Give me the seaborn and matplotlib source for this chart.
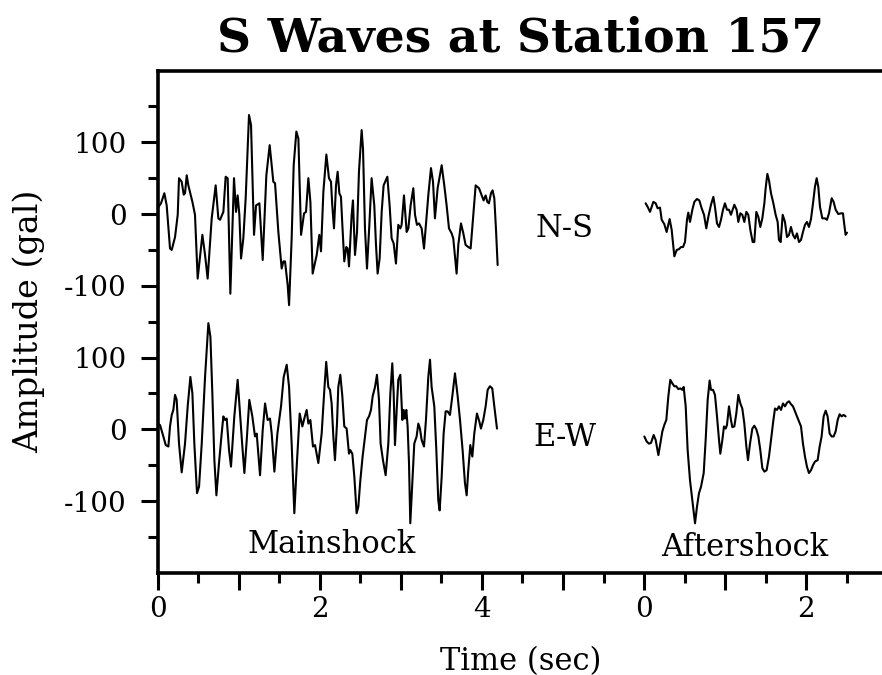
import numpy as np
import pandas as pd
import matplotlib
matplotlib.use("Agg")
import matplotlib.pyplot as plt
import seaborn as sns
from matplotlib.ticker import FixedLocator, FixedFormatter

# ---------------- data (time in s, amplitude in gal) ----------------
ns_main_t = [0.000, 0.043, 0.084, 0.113, 0.154, 0.175, 0.216, 0.249, 0.265, 0.298, 0.323, 0.339,
             0.360, 0.380, 0.430, 0.462, 0.495, 0.553, 0.586, 0.618, 0.668, 0.717, 0.750, 0.771,
             0.812, 0.840, 0.865, 0.898, 0.943, 0.968, 0.988, 1.009, 1.030, 1.058, 1.087, 1.128,
             1.153, 1.190, 1.215, 1.256, 1.297, 1.342, 1.383, 1.428, 1.449, 1.490, 1.531, 1.552,
             1.572, 1.605, 1.622, 1.654, 1.679, 1.712, 1.737, 1.770, 1.807, 1.831, 1.860, 1.885,
             1.913, 1.963, 1.995, 2.016, 2.045, 2.082, 2.114, 2.139, 2.155, 2.176, 2.201, 2.221,
             2.242, 2.262, 2.279, 2.303, 2.328, 2.344, 2.361, 2.394, 2.410, 2.435, 2.460, 2.484,
             2.517, 2.534, 2.558, 2.583, 2.612, 2.640, 2.673, 2.694, 2.714, 2.739, 2.764, 2.788,
             2.834, 2.862, 2.887, 2.912, 2.940, 2.969, 2.994, 3.010, 3.039, 3.072, 3.093, 3.121,
             3.154, 3.175, 3.199, 3.224, 3.257, 3.286, 3.310, 3.339, 3.372, 3.397, 3.421, 3.454,
             3.504, 3.536, 3.565, 3.594, 3.627, 3.647, 3.688, 3.709, 3.742, 3.771, 3.799, 3.832,
             3.861, 3.894, 3.923, 3.964, 3.997, 4.021, 4.046, 4.067, 4.087, 4.112, 4.132, 4.153,
             4.173, 4.194]
ns_main_v = [8, 15, 29, 12, -48, -50, -32, -1, 50, 45, 27, 29,
             54, 40, 17, -1, -90, -29, -57, -90, -6, 40, -6, -8,
             3, 52, 50, -111, 50, 3, 26, -1, -62, -34, 22, 138,
             124, -29, 12, 15, -64, 54, 96, 45, 43, -25, -76, -66,
             -66, -99, -127, -34, 68, 115, 105, -29, 1, 3, 50, 17,
             -83, -57, -29, -52, 31, 83, 50, 45, 12, -20, 40, 59,
             29, 24, -15, -66, -46, -48, -73, -1, 19, -57, -25, 59,
             117, 91, -20, -76, -15, 50, 12, -43, -83, -62, 3, 40,
             52, 12, -34, -41, -69, -15, -20, -15, 26, -25, -20, 12,
             36, -1, -15, -13, -20, -48, -15, 26, 64, 45, -6, 36,
             68, 40, 12, -20, -27, -34, -83, -43, -13, -27, -43, -46,
             -48, -1, 40, 36, 26, 19, 26, 17, 15, 29, 33, 22,
             -20, -71]

ew_main_t = [0.000, 0.031, 0.072, 0.101, 0.134, 0.154, 0.175, 0.195, 0.216, 0.236, 0.265, 0.298,
             0.339, 0.372, 0.405, 0.430, 0.454, 0.487, 0.512, 0.545, 0.586, 0.627, 0.652, 0.676,
             0.701, 0.726, 0.758, 0.791, 0.812, 0.832, 0.853, 0.882, 0.906, 0.947, 0.988, 1.017,
             1.046, 1.071, 1.100, 1.132, 1.169, 1.202, 1.223, 1.264, 1.297, 1.326, 1.358, 1.387,
             1.408, 1.441, 1.478, 1.523, 1.556, 1.593, 1.622, 1.654, 1.687, 1.716, 1.753, 1.786,
             1.810, 1.839, 1.860, 1.885, 1.917, 1.942, 1.983, 2.024, 2.057, 2.080, 2.106, 2.127,
             2.147, 2.168, 2.188, 2.213, 2.229, 2.254, 2.279, 2.303, 2.332, 2.361, 2.377, 2.402,
             2.427, 2.455, 2.476, 2.501, 2.529, 2.558, 2.583, 2.608, 2.632, 2.653, 2.682, 2.706,
             2.731, 2.751, 2.780, 2.813, 2.846, 2.871, 2.895, 2.912, 2.928, 2.949, 2.969, 2.994,
             3.019, 3.035, 3.051, 3.068, 3.084, 3.101, 3.117, 3.142, 3.166, 3.195, 3.216, 3.236,
             3.257, 3.286, 3.310, 3.339, 3.360, 3.380, 3.413, 3.438, 3.462, 3.479, 3.504, 3.528,
             3.553, 3.577, 3.606, 3.635, 3.668, 3.701, 3.730, 3.762, 3.791, 3.812, 3.832, 3.857,
             3.882, 3.906, 3.939, 3.968, 3.988, 4.017, 4.046, 4.071, 4.099, 4.128, 4.153, 4.186]
ew_main_v = [8, 6, -10, -22, -24, 4, 20, 27, 48, 41, -20, -60,
             -20, 32, 73, 50, -20, -89, -80, -20, 73, 148, 129, 50,
             -43, -92, -47, -6, 18, 13, 15, -29, -52, 18, 69, 22,
             -24, -61, -15, 41, 18, -10, -6, -64, -1, 36, 13, 15,
             -6, -59, -6, 32, 73, 90, 59, -20, -117, -52, 22, 4,
             15, 27, 8, 13, -24, -22, -47, -6, 55, 94, 59, 55,
             36, -10, -43, 8, 59, 76, 46, 4, 1, -34, -29, -34,
             -66, -117, -108, -71, -38, -10, 13, 18, 27, 46, 59, 76,
             41, -20, -43, -64, -20, 50, 92, 50, -22, 27, 69, 76,
             13, 27, 15, 27, 4, -47, -131, -75, -20, -10, 8, 1,
             -15, -24, 13, 73, 97, 59, 32, -29, -99, -113, -66, -6,
             25, 25, 20, 46, 78, 46, 13, -29, -75, -92, -57, -22,
             -38, -6, 22, 11, 1, 13, 32, 55, 60, 57, 32, 1]

ns_after_t = [0.019, 0.044, 0.073, 0.114, 0.143, 0.167, 0.196, 0.217, 0.249, 0.278, 0.315, 0.340,
              0.373, 0.402, 0.430, 0.455, 0.480, 0.504, 0.529, 0.545, 0.566, 0.595, 0.620, 0.652,
              0.681, 0.710, 0.739, 0.767, 0.792, 0.825, 0.854, 0.874, 0.899, 0.924, 0.948, 0.973,
              0.997, 1.022, 1.047, 1.071, 1.092, 1.113, 1.141, 1.162, 1.187, 1.211, 1.236, 1.261,
              1.285, 1.310, 1.339, 1.359, 1.384, 1.409, 1.433, 1.458, 1.483, 1.499, 1.520, 1.540,
              1.565, 1.594, 1.622, 1.647, 1.663, 1.684, 1.709, 1.737, 1.762, 1.787, 1.811, 1.836,
              1.861, 1.885, 1.910, 1.935, 1.959, 1.984, 2.008, 2.033, 2.058, 2.083, 2.107, 2.128,
              2.148, 2.169, 2.198, 2.231, 2.255, 2.280, 2.313, 2.337, 2.362, 2.395, 2.428, 2.452,
              2.469, 2.485, 2.502]
ns_after_v = [15, 10, 3, 17, 15, 8, 9, -8, -14, -25, -7, -22,
              -59, -50, -49, -46, -46, -39, -8, 2, -11, 6, 17, 21,
              19, 8, -1, -20, -4, 13, 24, 10, -13, -18, -8, 6,
              15, 6, 6, -1, 6, 13, 6, -11, 1, -1, -11, 3,
              -1, -22, -39, -39, 3, -4, -18, -6, 15, 36, 56, 47,
              29, 15, -1, -11, -36, -39, -1, -11, -32, -29, -18, -29,
              -34, -27, -39, -36, -25, -15, -11, -18, -7, 15, 38, 50,
              38, 10, -6, -6, -8, 1, 22, 17, 6, 0, 1, 1,
              -15, -29, -26]

ew_after_t = [0.003, 0.032, 0.060, 0.085, 0.118, 0.143, 0.176, 0.200, 0.225, 0.249, 0.274, 0.299,
              0.323, 0.348, 0.373, 0.397, 0.422, 0.447, 0.471, 0.488, 0.513, 0.537, 0.566, 0.595,
              0.628, 0.652, 0.677, 0.702, 0.735, 0.759, 0.784, 0.808, 0.825, 0.850, 0.874, 0.899,
              0.924, 0.940, 0.965, 0.985, 1.006, 1.022, 1.047, 1.071, 1.088, 1.113, 1.137, 1.162,
              1.187, 1.211, 1.236, 1.261, 1.281, 1.306, 1.335, 1.359, 1.384, 1.409, 1.433, 1.458,
              1.483, 1.511, 1.540, 1.565, 1.589, 1.614, 1.639, 1.663, 1.688, 1.713, 1.737, 1.762,
              1.787, 1.811, 1.836, 1.861, 1.885, 1.910, 1.935, 1.959, 1.984, 2.008, 2.033, 2.058,
              2.083, 2.107, 2.140, 2.165, 2.189, 2.214, 2.239, 2.263, 2.288, 2.313, 2.337, 2.362,
              2.387, 2.411, 2.436, 2.461, 2.485]
ew_after_v = [-10, -17, -20, -19, -8, -15, -36, -20, -3, 6, 13, 46,
              69, 64, 60, 60, 56, 57, 55, 59, 32, -29, -71, -99,
              -131, -108, -89, -80, -61, -15, 41, 68, 55, 55, 48, 18,
              -15, -34, -15, 4, 1, 6, 32, 13, 3, 4, 22, 48,
              36, 29, 8, -24, -43, -20, 1, 5, 0, -10, -29, -54,
              -59, -57, -38, -15, 8, 29, 27, 32, 27, 36, 32, 37,
              39, 35, 32, 25, 18, 11, 4, -20, -38, -52, -61, -57,
              -50, -45, -43, -24, -10, 18, 26, 18, -6, -10, -10, -3,
              13, 21, 18, 20, 18]

# layout constants
NS_OFFSET = 300.0      # vertical offset of the N-S trace (gal)
AFTER_SHIFT = 6.0      # aftershock time axis starts at this position (s)

traces = [
    ("ns_main", np.array(ns_main_t), np.array(ns_main_v) + NS_OFFSET),
    ("ew_main", np.array(ew_main_t), np.array(ew_main_v)),
    ("ns_after", np.array(ns_after_t) + AFTER_SHIFT, np.array(ns_after_v) + NS_OFFSET),
    ("ew_after", np.array(ew_after_t) + AFTER_SHIFT, np.array(ew_after_v)),
]

sns.set_style("ticks")
plt.rcParams["font.family"] = ["DejaVu Serif"]
plt.rcParams["text.color"] = "black"
plt.rcParams["axes.labelcolor"] = "black"
plt.rcParams["xtick.color"] = "black"
plt.rcParams["ytick.color"] = "black"

fig = plt.figure(figsize=(8.82, 6.75), dpi=100)
ax = fig.add_axes([0.1786, 0.1514, 0.8229, 0.7441])

for name, t, v in traces:
    df = pd.DataFrame({"time": t, "amp": v})
    sns.lineplot(data=df, x="time", y="amp", sort=False, estimator=None,
                 color="black", linewidth=1.5, ax=ax)

ax.set_xlim(0, 8.95)
ax.set_ylim(-200, 500)

# x ticks
xmaj = [0, 1, 2, 3, 4, 5, 6, 7, 8]
xlab = ["0", "", "2", "", "4", "", "0", "", "2"]
ax.xaxis.set_major_locator(FixedLocator(xmaj))
ax.xaxis.set_major_formatter(FixedFormatter(xlab))
ax.xaxis.set_minor_locator(FixedLocator([0.5, 1.5, 2.5, 3.5, 4.5, 5.5, 6.5, 7.5, 8.5]))

# y ticks
ymaj = [-100, 0, 100, 200, 300, 400]
ylab = ["-100", "0", "100", "-100", "0", "100"]
ax.yaxis.set_major_locator(FixedLocator(ymaj))
ax.yaxis.set_major_formatter(FixedFormatter(ylab))
ax.yaxis.set_minor_locator(FixedLocator([-150, -50, 50, 150, 250, 350, 450]))

ax.tick_params(axis="both", which="major", direction="out", length=12, width=2.2,
               colors="black", labelsize=20)
ax.tick_params(axis="both", which="minor", direction="out", length=7, width=2.2,
               colors="black")
ax.tick_params(axis="x", which="major", pad=5)
ax.tick_params(axis="y", which="major", pad=10)

for s in ["left", "bottom", "top"]:
    ax.spines[s].set_linewidth(2.6)
    ax.spines[s].set_color("black")
ax.spines["right"].set_visible(False)

ax.set_xlabel("Time (sec)", fontsize=22, labelpad=16)
ax.set_ylabel("Amplitude (gal)", fontsize=24, labelpad=14)
ax.set_title("S Waves at Station 157", fontsize=34, fontweight="bold", pad=14)

ax.text(5.02, 280, "N-S", fontsize=22, ha="center", va="center")
ax.text(5.02, -11, "E-W", fontsize=22, ha="center", va="center")
ax.text(2.15, -161, "Mainshock", fontsize=22, ha="center", va="center")
ax.text(7.24, -165, "Aftershock", fontsize=22, ha="center", va="center")

fig.savefig("out.png", dpi=100)
